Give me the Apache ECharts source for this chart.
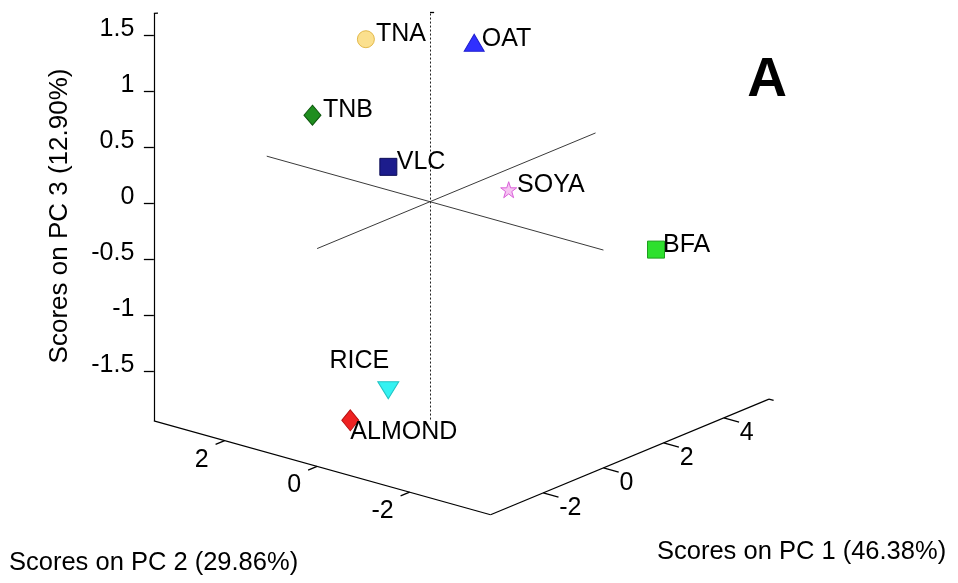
<!DOCTYPE html>
<html>
<head>
<meta charset="utf-8">
<script src="https://cdn.jsdelivr.net/npm/echarts@6/dist/echarts.min.js"></script>
<style>
html,body{margin:0;padding:0;background:#fff;}
#chart{width:958px;height:583px;}
</style>
</head>
<body>
<div id="chart"></div>
<script>
// ---------------- data ----------------
const sampleNames = ['TNA', 'OAT', 'TNB', 'VLC', 'SOYA', 'BFA', 'RICE', 'ALMOND'];
const pc1Scores = [-1.5, 0.5, -2.0, -1.0, 1.5, 4.6, -2.5, -2.8];
const pc2Scores = [0.41, -0.63, 1.24, 0.25, -0.725, -1.893, -0.725, -0.099];
const pc3Scores = [1.571, 1.436, 0.853, 0.394, 0.023, -0.723, -1.321, -1.628];

const pc1Range = [-3.75, 5.5];
const pc2Range = [-3.75, 3.53];
const pc3Range = [-1.945, 1.694];

const pc1Ticks = [-2, 0, 2, 4];
const pc2Ticks = [2, 0, -2];
const pc3Ticks = [1.5, 1, 0.5, 0, -0.5, -1, -1.5];

const pc1Title = 'Scores on PC 1 (46.38%)';
const pc2Title = 'Scores on PC 2 (29.86%)';
const pc3Title = 'Scores on PC 3 (12.90%)';
const panelLetter = 'A';

// ---------------- view (3D -> plane projection) ----------------
const VIEW = { ox: 430, oy: 201.7, u: [30.1, -12.5], v: [-46.25, -12.9], w: [0, -112] };
function proj(a, b, c) {
  return [VIEW.ox + a * VIEW.u[0] + b * VIEW.v[0] + c * VIEW.w[0],
          VIEW.oy + a * VIEW.u[1] + b * VIEW.v[1] + c * VIEW.w[1]];
}

const FONT = "'Liberation Sans', Arial, Helvetica, sans-serif";

// marker styles
const markerStyle = {
  TNA:    { symbol: 'circle', size: 17, rot: 0, fill: '#FBE08E', stroke: '#E3B94A', align: 'left', off: [10, -5] },
  OAT:    { symbol: 'triangle', size: [20, 17], rot: 0, fill: '#3030FF', stroke: '#2020D0', align: 'left', off: [7.5, -3.6] },
  TNB:    { symbol: 'diamond', size: [17, 20], rot: 0, fill: '#1F8E1F', stroke: '#0C560C', align: 'left', off: [10.5, -4.7] },
  VLC:    { symbol: 'rect', size: 17, rot: 0, fill: '#1C1C8C', stroke: '#0C0C55', align: 'left', off: [8.4, -4.4] },
  SOYA:   { symbol: 'path://M50,0 L61.8,35.3 L99,35.3 L68.9,57.1 L80.3,92.7 L50,70.6 L19.7,92.7 L31.1,57.1 L1,35.3 L38.2,35.3 Z', size: 16, rot: 0, fill: '#F6C4F2', stroke: '#D95FD9', align: 'left', off: [8.4, -4.2] },
  BFA:    { symbol: 'rect', size: 17, rot: 0, fill: '#2EE02E', stroke: '#1E9E1E', align: 'left', off: [7, -4.5] },
  RICE:   { symbol: 'triangle', size: [21, 17], rot: 180, fill: '#33F2F2', stroke: '#22C4C4', align: 'right', off: [1, -29] },
  ALMOND: { symbol: 'diamond', size: [17, 21], rot: 0, fill: '#EE2222', stroke: '#B81010', align: 'left', off: [0, 11.4] }
};

// ---------------- build geometry ----------------
const [x0, x1] = pc1Range, [y0, y1] = pc2Range, [z0, z1] = pc3Range;
const seg = (p, q) => ({ coords: [proj(...p), proj(...q)] });

const boxLines = [
  seg([x0, y1, z0], [x0, y1, z1]),
  seg([x0, y1, z0], [x0, y0, z0]),
  seg([x0, y0, z0], [x1, y0, z0])
];
const innerLines = [
  seg([x0, 0, 0], [x1, 0, 0]),
  seg([0, y0, 0], [0, y1, 0])
];
const centerLine = [ seg([0, 0, z0], [0, 0, z1]) ];

const tickLines = [];
pc3Ticks.forEach(t => tickLines.push(seg([x0, y1, t], [x0 - 0.1335, y1 + 0.1293, t])));
pc2Ticks.forEach(t => tickLines.push(seg([x0, t, z0], [x0 - 0.3, t, z0])));
pc1Ticks.forEach(t => tickLines.push(seg([t, y0, z0], [t, y0 - 0.33, z0])));
// short end marks at the top of the vertical lines and at line ends
tickLines.push(seg([x0, y1, z1], [x0 + 0.06, y1 - 0.05, z1]));
tickLines.push(seg([0, 0, z1], [0.06, -0.05, z1]));
tickLines.push(seg([x1, y0, z0], [x1, y0 - 0.1, z0]));

const labelBase = { show: true, position: 'inside', verticalAlign: 'middle', color: '#000', fontSize: 25,
                    fontFamily: FONT, textBorderWidth: 0, textBorderColor: 'transparent', textShadowBlur: 0 };
const labelItem = (pt, text, align, off) => ({
  value: pt,
  itemStyle: { color: '#000', opacity: 1 },
  label: Object.assign({}, labelBase, { formatter: text, align: align, offset: off })
});
const tickLabelData = [];
pc3Ticks.forEach(t => tickLabelData.push(labelItem(proj(x0, y1, t), String(t), 'right', [-19.5, -6])));
pc2Ticks.forEach(t => tickLabelData.push(labelItem(proj(x0, t, z0), String(t), 'right', [-16, 19])));
pc1Ticks.forEach(t => tickLabelData.push(labelItem(proj(t, y0, z0), String(t), 'left', [16, 15])));

const sampleData = sampleNames.map((n, i) => {
  const s = markerStyle[n];
  return {
    name: n,
    value: proj(pc1Scores[i], pc2Scores[i], pc3Scores[i]),
    symbol: s.symbol,
    symbolSize: s.size,
    symbolRotate: s.rot,
    itemStyle: { color: s.fill, borderColor: s.stroke, borderWidth: 1, opacity: 1 },
    label: Object.assign({}, labelBase, { formatter: n, align: s.align, offset: s.off })
  };
});

const linesSeries = (data, style, z) => ({
  type: 'lines', coordinateSystem: 'cartesian2d', polyline: false, silent: true, z: z,
  lineStyle: Object.assign({ opacity: 1 }, style), data: data, animation: false
});

const chart = echarts.init(document.getElementById('chart'), null, { renderer: 'canvas' });
chart.setOption({
  backgroundColor: '#ffffff',
  animation: false,
  grid: { left: 0, right: 0, top: 0, bottom: 0 },
  xAxis: { type: 'value', min: 0, max: 958, show: false },
  yAxis: { type: 'value', min: 0, max: 583, inverse: true, show: false },
  series: [
    linesSeries(innerLines, { color: '#3a3a3a', width: 1 }, 1),
    linesSeries(centerLine, { color: '#222', width: 1, type: [2, 2] }, 1),
    linesSeries(boxLines, { color: '#000', width: 1.2 }, 2),
    linesSeries(tickLines, { color: '#000', width: 1.3 }, 2),
    {
      type: 'scatter', symbolSize: 0, silent: true, z: 3, data: tickLabelData,
      itemStyle: { color: '#000', opacity: 1 }, label: labelBase
    },
    {
      type: 'scatter', silent: true, z: 5, data: sampleData
    }
  ],
  graphic: [
    { type: 'text', x: 9, y: 563, silent: true,
      style: { text: pc2Title, font: '25.5px ' + FONT, fill: '#000', align: 'left', verticalAlign: 'middle', textAlign: 'left', textVerticalAlign: 'middle' } },
    { type: 'text', x: 657, y: 552, silent: true,
      style: { text: pc1Title, font: '25.5px ' + FONT, fill: '#000', align: 'left', verticalAlign: 'middle', textAlign: 'left', textVerticalAlign: 'middle' } },
    { type: 'text', x: 60, y: 216, rotation: Math.PI / 2, silent: true,
      style: { text: pc3Title, font: '26px ' + FONT, fill: '#000', align: 'center', verticalAlign: 'middle', textAlign: 'center', textVerticalAlign: 'middle' } },
    { type: 'text', x: 767, y: 81, silent: true,
      style: { text: panelLetter, font: 'bold 55px ' + FONT, fill: '#000', align: 'center', verticalAlign: 'middle', textAlign: 'center', textVerticalAlign: 'middle' } }
  ]
});
</script>
</body>
</html>
